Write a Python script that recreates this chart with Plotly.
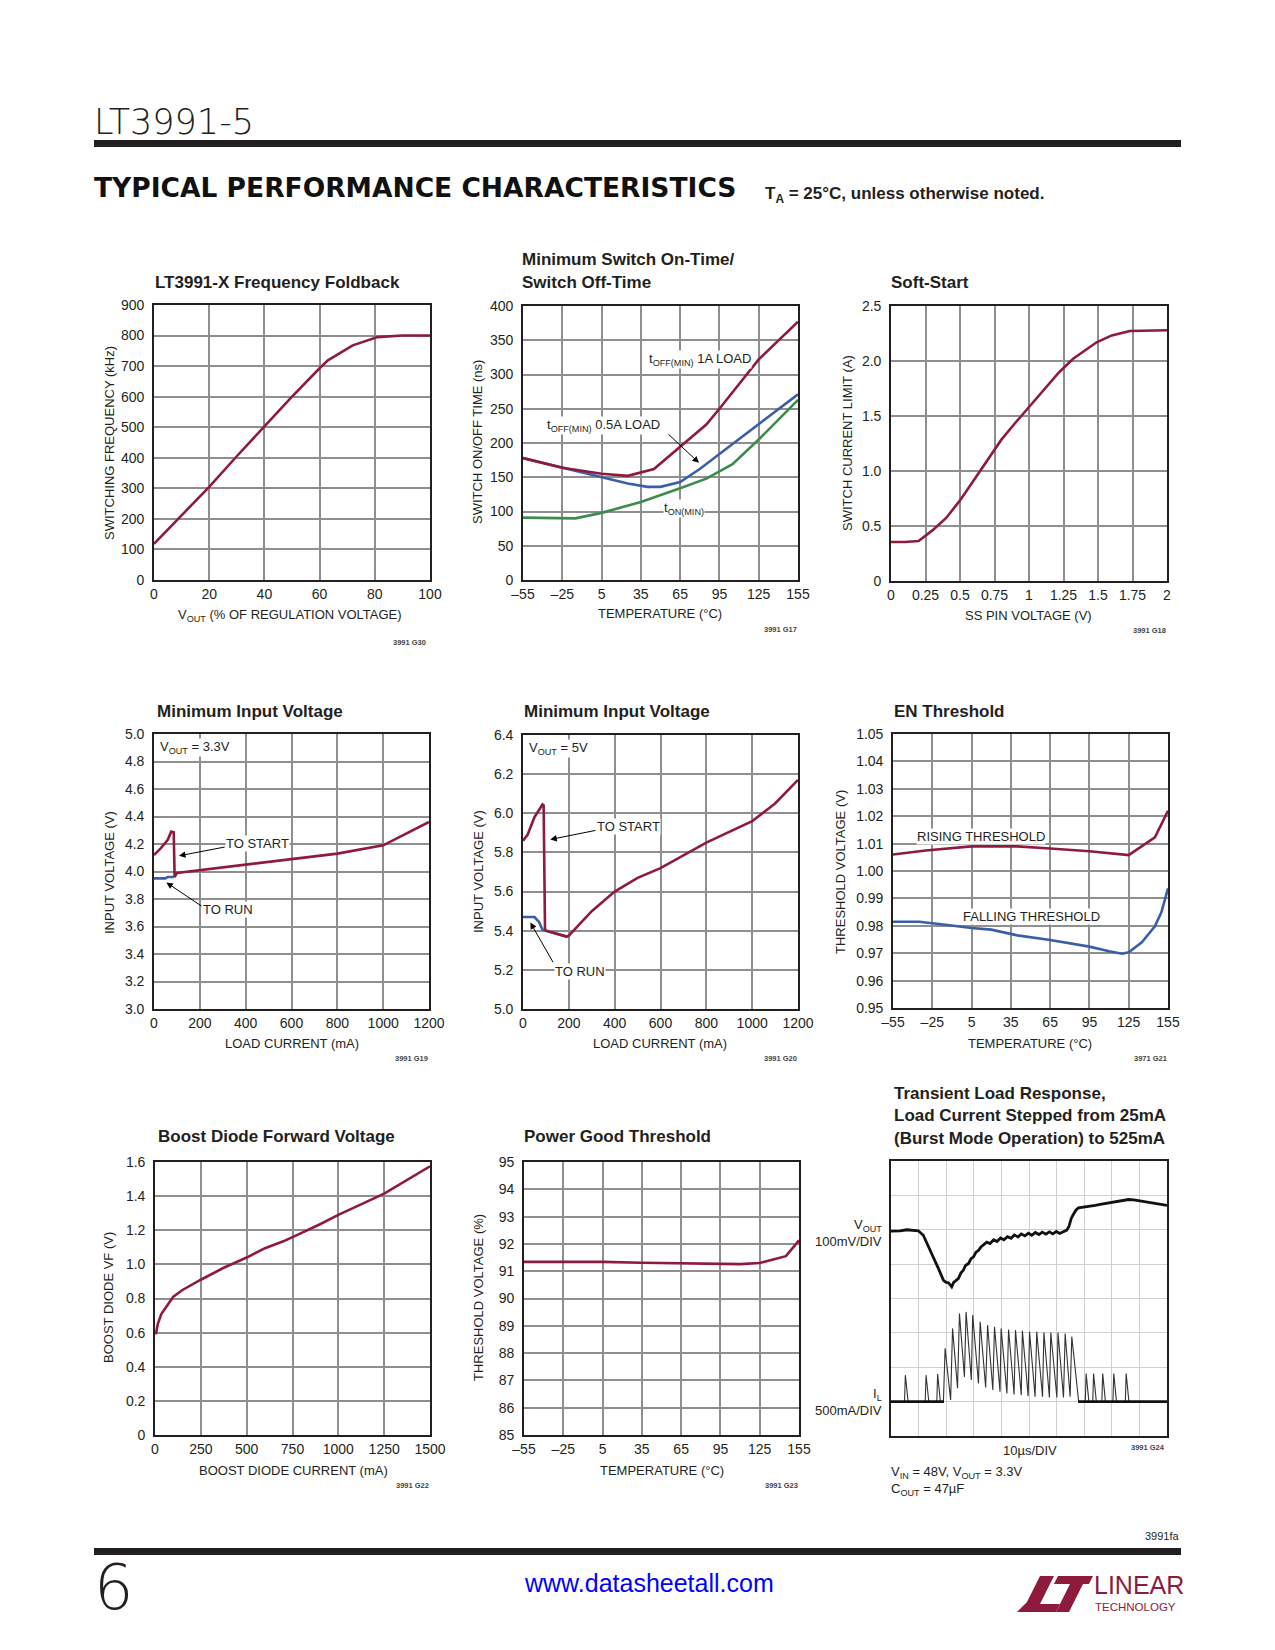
import plotly.graph_objects as go

W, H = 1275, 1650
OFF = 8  # page offset of the plot div (browser body margin)
FONT = "Liberation Sans Narrow, Arial Narrow, Liberation Sans, Arial, sans-serif"
RED = "#8e1b3e"
BLUE = "#3c5ea8"
GREEN = "#3e8b4e"
INK = "#231f20"
GRID = "#8f8f8f"

# ---------------- data ----------------
# 1. Frequency foldback
fold_vout = [0, 10, 20, 30, 40, 50, 60, 63, 72, 81, 90, 100]
fold_freq = [118, 210, 305, 405, 502, 600, 693, 719, 768, 795, 800, 800]

# 2. Minimum switch on-time / off-time
temp_1a = [-55, -25, 5, 25, 45, 65, 85, 95, 125, 155]
toff_1a = [178, 164, 155, 152, 162, 195, 227, 250, 322, 377]
temp_05a = [-55, -25, 5, 25, 40, 50, 65, 80, 95, 125, 155]
toff_05a = [178, 164, 150, 141, 136, 136, 143, 162, 184, 228, 271]
temp_on = [-55, -35, -15, 5, 35, 65, 85, 105, 125, 155]
ton_min = [91, 90, 90, 98, 114, 134, 148, 169, 205, 263]

# 3. Soft-start
ss_volt = [0, 0.1, 0.2, 0.3, 0.4, 0.5, 0.6, 0.7, 0.8, 0.9, 1.0, 1.1, 1.22, 1.32, 1.49, 1.6, 1.73, 2.0]
ss_ilim = [0.355, 0.355, 0.364, 0.46, 0.573, 0.733, 0.915, 1.103, 1.285, 1.436, 1.582, 1.733, 1.9, 2.02, 2.17, 2.233, 2.273, 2.28]

# 4. Minimum input voltage, VOUT = 3.3V
v33_start_i = [0, 30, 60, 75, 86, 88, 90, 100, 200, 400, 600, 800, 1000, 1200]
v33_start_v = [4.12, 4.17, 4.23, 4.29, 4.285, 3.97, 3.96, 3.99, 4.01, 4.05, 4.09, 4.13, 4.19, 4.36]
v33_run_i = [0, 50, 60, 88]
v33_run_v = [3.95, 3.95, 3.96, 3.96]

# 5. Minimum input voltage, VOUT = 5V
v5_start_i = [0, 20, 50, 75, 85, 90, 96, 100, 150, 190, 200, 300, 400, 500, 600, 800, 1000, 1100, 1200]
v5_start_v = [5.86, 5.89, 5.98, 6.03, 6.045, 6.04, 5.41, 5.40, 5.385, 5.37, 5.375, 5.50, 5.60, 5.67, 5.72, 5.85, 5.96, 6.05, 6.17]
v5_run_i = [0, 50, 70, 85, 100, 150, 190, 200]
v5_run_v = [5.47, 5.47, 5.445, 5.405, 5.40, 5.385, 5.37, 5.375]

# 6. EN threshold
en_rise_t = [-55, -30, 5, 40, 65, 95, 125, 145, 155]
en_rise_v = [1.006, 1.0075, 1.009, 1.009, 1.0082, 1.0072, 1.0058, 1.0123, 1.022]
en_fall_t = [-55, -35, -15, 5, 20, 40, 65, 95, 110, 120, 125, 135, 145, 150, 155]
en_fall_v = [0.9815, 0.9815, 0.9804, 0.9792, 0.9786, 0.9765, 0.9748, 0.9724, 0.9707, 0.9698, 0.9703, 0.9740, 0.9798, 0.9850, 0.9937]

# 7. Boost diode forward voltage
bd_current = [5, 15, 35, 55, 100, 150, 250, 375, 500, 600, 700, 800, 900, 1000, 1250, 1500]
bd_vf = [0.59, 0.65, 0.71, 0.74, 0.81, 0.85, 0.91, 0.98, 1.04, 1.095, 1.135, 1.185, 1.235, 1.29, 1.415, 1.575]

# 8. Power good threshold
pg_temp = [-55, 5, 35, 65, 95, 110, 125, 145, 155]
pg_thresh = [91.34, 91.34, 91.31, 91.28, 91.26, 91.26, 91.30, 91.55, 92.13]

# 9. Transient load response (scope divisions)
vout_trace = [(0, 5.96), (0.33, 5.97), (0.57, 6.0), (0.99, 5.97), (1.17, 5.84), (1.48, 5.31), (1.72, 4.87),
              (1.90, 4.53), (2.0, 4.47), (2.08, 4.46), (2.14, 4.40), (2.20, 4.34), (2.27, 4.47), (2.32, 4.50),
              (2.38, 4.56), (2.44, 4.58), (2.53, 4.74), (2.62, 4.82), (2.70, 4.96), (2.81, 5.02), (2.90, 5.16),
              (2.99, 5.21), (3.08, 5.35), (3.17, 5.40), (3.26, 5.50), (3.35, 5.55), (3.47, 5.64), (3.59, 5.60),
              (3.72, 5.71), (3.84, 5.66), (3.97, 5.76), (4.09, 5.71), (4.22, 5.80), (4.35, 5.75), (4.47, 5.85),
              (4.60, 5.79), (4.72, 5.88), (4.85, 5.82), (4.98, 5.90), (5.10, 5.84), (5.23, 5.92), (5.36, 5.86),
              (5.48, 5.93), (5.61, 5.87), (5.74, 5.94), (5.86, 5.88), (5.99, 5.95), (6.11, 5.89), (6.25, 5.95),
              (6.37, 5.99), (6.45, 6.10), (6.53, 6.33), (6.61, 6.45), (6.70, 6.57), (6.79, 6.64), (7.0, 6.66),
              (7.22, 6.68), (7.40, 6.71), (7.58, 6.74), (7.80, 6.77), (8.07, 6.81), (8.35, 6.85), (8.61, 6.88),
              (8.80, 6.87), (9.03, 6.84), (9.52, 6.78), (10, 6.71)]
il_trace = [(0, 1.0), (0.49, 1.0), (0.52, 1.77), (0.62, 1.0), (1.24, 1.0), (1.27, 1.77), (1.37, 1.0),
            (1.66, 1.0), (1.69, 1.80), (1.79, 1.0), (1.90, 1.0), (1.96, 2.55), (2.16, 1.05), (2.23, 3.13),
            (2.41, 1.39), (2.48, 3.56), (2.66, 1.72), (2.72, 3.61), (2.91, 1.63), (2.96, 3.52), (3.17, 1.53),
            (3.23, 3.32), (3.43, 1.41), (3.50, 3.23), (3.69, 1.34), (3.75, 3.18), (3.95, 1.29), (3.99, 3.13),
            (4.20, 1.24), (4.26, 3.10), (4.46, 1.21), (4.51, 3.08), (4.72, 1.19), (4.76, 3.06), (4.97, 1.16),
            (5.02, 3.03), (5.22, 1.14), (5.28, 3.03), (5.49, 1.14), (5.54, 3.01), (5.74, 1.12), (5.79, 3.01),
            (6.01, 1.12), (6.05, 3.01), (6.25, 1.12), (6.31, 2.98), (6.49, 1.14), (6.55, 2.89), (6.80, 1.0),
            (7.04, 1.0), (7.07, 1.82), (7.17, 1.0), (7.31, 1.0), (7.34, 1.82), (7.44, 1.0), (7.64, 1.0),
            (7.67, 1.82), (7.77, 1.0), (8.04, 1.0), (8.07, 1.82), (8.17, 1.0), (8.49, 1.0), (8.52, 1.82),
            (8.62, 1.0), (10, 1.0)]
il_base_left = [(0, 1.0), (1.92, 1.0)]
il_base_right = [(6.78, 1.0), (10, 1.0)]

# ticks
temp_ticks = [-55, -25, 5, 35, 65, 95, 125, 155]
temp_labels = ["–55", "–25", "5", "35", "65", "95", "125", "155"]

# ---------------- layout helpers ----------------
boxes = {
    1: (154, 430, 305, 580), 2: (523, 798, 306, 580), 3: (891, 1167, 306, 581),
    4: (154, 429, 734, 1009), 5: (523, 798, 735, 1009), 6: (893, 1168, 734, 1008),
    7: (155, 430, 1162, 1435), 8: (524, 799, 1162, 1435), 9: (891, 1167, 1161, 1436),
}

axes_spec = {
    1: ([0, 100], [0, 20, 40, 60, 80, 100], None, [0, 900], list(range(0, 901, 100)), None),
    2: ([-55, 155], temp_ticks, temp_labels, [0, 400], list(range(0, 401, 50)), None),
    3: ([0, 2], [0, 0.25, 0.5, 0.75, 1, 1.25, 1.5, 1.75, 2], ["0", "0.25", "0.5", "0.75", "1", "1.25", "1.5", "1.75", "2"],
        [0, 2.5], [0, 0.5, 1, 1.5, 2, 2.5], ["0", "0.5", "1.0", "1.5", "2.0", "2.5"]),
    4: ([0, 1200], list(range(0, 1201, 200)), None, [3.0, 5.0], [3.0 + 0.2 * i for i in range(11)],
        ["3.0", "3.2", "3.4", "3.6", "3.8", "4.0", "4.2", "4.4", "4.6", "4.8", "5.0"]),
    5: ([0, 1200], list(range(0, 1201, 200)), None, [5.0, 6.4], [5.0 + 0.2 * i for i in range(8)],
        ["5.0", "5.2", "5.4", "5.6", "5.8", "6.0", "6.2", "6.4"]),
    6: ([-55, 155], temp_ticks, temp_labels, [0.95, 1.05], [0.95 + 0.01 * i for i in range(11)],
        ["0.95", "0.96", "0.97", "0.98", "0.99", "1.00", "1.01", "1.02", "1.03", "1.04", "1.05"]),
    7: ([0, 1500], list(range(0, 1501, 250)), None, [0, 1.6], [0.2 * i for i in range(9)],
        ["0", "0.2", "0.4", "0.6", "0.8", "1.0", "1.2", "1.4", "1.6"]),
    8: ([-55, 155], temp_ticks, temp_labels, [85, 95], list(range(85, 96)), None),
}

TICK = 14


def fx(px):
    return (px - OFF) / W


def fy(py):
    return 1 - (py - OFF) / H


def xid(n):
    return "x" if n == 1 else f"x{n}"


def yid(n):
    return "y" if n == 1 else f"y{n}"


fig = go.Figure()
layout_axes = {}
for n, (l, r, t, b) in boxes.items():
    xname = "xaxis" if n == 1 else f"xaxis{n}"
    yname = "yaxis" if n == 1 else f"yaxis{n}"
    common = dict(showline=True, linecolor=INK, linewidth=1.6, mirror=True, zeroline=False,
                  ticks="", fixedrange=True, automargin=False,
                  tickfont=dict(family=FONT, size=TICK, color=INK))
    if n == 9:
        layout_axes[xname] = dict(domain=[fx(l), fx(r)], range=[0, 10], dtick=1, anchor=yid(n),
                                  showticklabels=False, showgrid=True, gridcolor="#cfcfcf", gridwidth=1, **common)
        layout_axes[yname] = dict(domain=[fy(b), fy(t)], range=[0, 8], dtick=1, anchor=xid(n),
                                  showticklabels=False, showgrid=True, gridcolor="#cfcfcf", gridwidth=1, **common)
        continue
    xr, xt, xl, yr, yt, yl = axes_spec[n]
    layout_axes[xname] = dict(domain=[fx(l), fx(r)], range=xr, tickmode="array", tickvals=xt,
                              ticktext=xl if xl else [str(v) for v in xt], anchor=yid(n),
                              showgrid=True, gridcolor=GRID, gridwidth=1.6, **common)
    layout_axes[yname] = dict(domain=[fy(b), fy(t)], range=yr, tickmode="array", tickvals=yt,
                              ticktext=yl if yl else [str(v) for v in yt], anchor=xid(n),
                              ticklabelstandoff=5,
                              showgrid=True, gridcolor=GRID, gridwidth=1.6, **common)


def line(n, x, y, color, width=2.6):
    fig.add_trace(go.Scatter(x=x, y=y, mode="lines", xaxis=xid(n), yaxis=yid(n), showlegend=False,
                             hoverinfo="skip", line=dict(color=color, width=width)))


line(1, fold_vout, fold_freq, RED)
line(2, temp_on, ton_min, GREEN)
line(2, temp_05a, toff_05a, BLUE)
line(2, temp_1a, toff_1a, RED)
line(3, ss_volt, ss_ilim, RED)
line(4, v33_run_i, v33_run_v, BLUE)
line(4, v33_start_i, v33_start_v, RED)
line(5, v5_run_i, v5_run_v, BLUE)
line(5, v5_start_i, v5_start_v, RED)
line(6, en_rise_t, en_rise_v, RED)
line(6, en_fall_t, en_fall_v, BLUE)
line(7, bd_current, bd_vf, RED)
line(8, pg_temp, pg_thresh, RED)
line(9, [p[0] for p in il_trace], [p[1] for p in il_trace], "#333333", 1.1)
line(9, [p[0] for p in il_base_left], [p[1] for p in il_base_left], "#111111", 2.6)
line(9, [p[0] for p in il_base_right], [p[1] for p in il_base_right], "#111111", 2.6)
line(9, [p[0] for p in vout_trace], [p[1] for p in vout_trace], "#111111", 2.8)

annotations = []


def txt(text, x, y, size=13, xanchor="center", yanchor="middle", family=FONT, color=INK,
        angle=0, bg=None, xref="paper", yref="paper", weight=None):
    if xref == "paper":
        x = fx(x)
    if yref == "paper":
        y = fy(y)
    font = dict(family=family, size=size, color=color)
    if weight is not None:
        font["weight"] = weight
    d = dict(text=text, x=x, y=y, xref=xref, yref=yref, xanchor=xanchor, yanchor=yanchor,
             showarrow=False, font=font, textangle=angle, borderpad=0)
    if bg:
        d["bgcolor"] = bg
    annotations.append(d)


def arrow(n, x, y, ax, ay):
    annotations.append(dict(x=x, y=y, ax=ax, ay=ay, xref=xid(n), yref=yid(n), axref=xid(n), ayref=yid(n),
                            text="", showarrow=True, arrowhead=2, arrowsize=1.3, arrowwidth=1,
                            arrowcolor="black", standoff=0))


def label(n, text, x, y, xanchor="center"):
    txt(text, x, y, size=13, xref=xid(n), yref=yid(n), xanchor=xanchor, bg="white")


# page header
txt("LT3991-5", 93, 122, size=35, xanchor="left", family="DejaVu Sans", weight=200, color="#231f20")
txt("TYPICAL PERFORMANCE CHARACTERISTICS", 93, 187, size=26.5, xanchor="left",
    family="DejaVu Sans", weight="bold", color="#111111")
txt("<b>T<sub>A</sub> = 25°C, unless otherwise noted.</b>", 764, 195, size=17, xanchor="left")

# chart titles
titles = [
    ("LT3991-X Frequency Foldback", 154, 283), ("Minimum Switch On-Time/", 521, 260),
    ("Switch Off-Time", 521, 283), ("Soft-Start", 890, 283),
    ("Minimum Input Voltage", 156, 711), ("Minimum Input Voltage", 523, 711), ("EN Threshold", 893, 711),
    ("Boost Diode Forward Voltage", 157, 1136), ("Power Good Threshold", 523, 1136),
    ("Transient Load Response,", 893, 1093), ("Load Current Stepped from 25mA", 893, 1115),
    ("(Burst Mode Operation) to 525mA", 893, 1138),
]
for t, x, y in titles:
    txt(f"<b>{t}</b>", x, y, size=17, xanchor="left", color="#231f20")

# axis titles
ytitles = [
    ("SWITCHING FREQUENCY (kHz)", 109, 443), ("SWITCH ON/OFF TIME (ns)", 478, 442),
    ("SWITCH CURRENT LIMIT (A)", 847, 443), ("INPUT VOLTAGE (V)", 109, 872),
    ("INPUT VOLTAGE (V)", 478, 872), ("THRESHOLD VOLTAGE (V)", 840, 872),
    ("BOOST DIODE VF (V)", 108, 1298), ("THRESHOLD VOLTAGE (%)", 478, 1298),
]
for t, x, y in ytitles:
    txt(t, x, y, size=13, angle=-90)
xtitles = [
    ("V<sub>OUT</sub> (% OF REGULATION VOLTAGE)", 290, 616), ("TEMPERATURE (°C)", 660, 614),
    ("SS PIN VOLTAGE (V)", 1028, 615), ("LOAD CURRENT (mA)", 292, 1043),
    ("LOAD CURRENT (mA)", 660, 1043), ("TEMPERATURE (°C)", 1030, 1043),
    ("BOOST DIODE CURRENT (mA)", 293, 1470), ("TEMPERATURE (°C)", 662, 1470),
]
for t, x, y in xtitles:
    txt(t, x, y, size=13)

# figure codes
codes = [("3991 G30", 427, 642), ("3991 G17", 798, 629), ("3991 G18", 1167, 630),
         ("3991 G19", 429, 1058), ("3991 G20", 798, 1058), ("3971 G21", 1168, 1058),
         ("3991 G22", 430, 1485), ("3991 G23", 799, 1485), ("3991 G24", 1166, 1447)]
for t, x, y in codes:
    txt(f"<b>{t}</b>", x, y, size=7.5, xanchor="right", color="#444444")

# in-chart labels
label(2, "t<sub>OFF(MIN)</sub> 1A LOAD", 80, 322)
label(2, "t<sub>OFF(MIN)</sub> 0.5A LOAD", 6.6, 226)
label(2, "t<sub>ON(MIN)</sub>", 68, 104)
arrow(2, 79.4, 171, 54.9, 214.8)

label(4, "V<sub>OUT</sub> = 3.3V", 20, 4.9, xanchor="left")
label(4, "TO START", 450, 4.2)
label(4, "TO RUN", 323, 3.72)
arrow(4, 109, 4.114, 315, 4.18)
arrow(4, 54, 3.92, 214, 3.741)

label(5, "V<sub>OUT</sub> = 5V", 20, 6.33, xanchor="left")
label(5, "TO START", 459, 5.93)
label(5, "TO RUN", 248, 5.19)
arrow(5, 119, 5.866, 323, 5.914)
arrow(5, 32, 5.442, 135, 5.231)

label(6, "RISING THRESHOLD", 12, 1.0126)
label(6, "FALLING THRESHOLD", 51, 0.9833)

# transient side labels
txt("V<sub>OUT</sub>", 883, 1225, xanchor="right")
txt("100mV/DIV", 883, 1241, xanchor="right")
txt("I<sub>L</sub>", 883, 1394, xanchor="right")
txt("500mA/DIV", 883, 1410, xanchor="right")
txt("10µs/DIV", 1030, 1450)
txt("V<sub>IN</sub> = 48V, V<sub>OUT</sub> = 3.3V", 890, 1472, xanchor="left")
txt("C<sub>OUT</sub> = 47µF", 890, 1489, xanchor="left")

# footer
txt("3991fa", 1181, 1536, size=11, xanchor="right")
txt("6", 93, 1587, size=62, xanchor="left", family="DejaVu Sans", weight=200, color="#231f20")
txt("www.datasheetall.com", 649, 1583, size=25, family="Liberation Sans, Arial, sans-serif", color="#0000ff")
txt("LINEAR", 1093, 1585, size=25, xanchor="left", color="#8e1b3e")
txt("TECHNOLOGY", 1094, 1607, size=11.5, xanchor="left", color="#8e1b3e")


def pth(points):
    return "M " + " L ".join(f"{fx(x):.5f},{fy(y):.5f}" for x, y in points) + " Z"


shapes = [
    dict(type="rect", xref="paper", yref="paper", x0=fx(94), x1=fx(1181), y0=fy(147), y1=fy(140),
         fillcolor="#231f20", line=dict(width=0)),
    dict(type="rect", xref="paper", yref="paper", x0=fx(94), x1=fx(1181), y0=fy(1555), y1=fy(1548),
         fillcolor="#231f20", line=dict(width=0)),
    dict(type="path", xref="paper", yref="paper",
         path=pth([(1040, 1576), (1054, 1576), (1040, 1604), (1060, 1604), (1056, 1612), (1017, 1612), (1027, 1602)]),
         fillcolor="#8e1b3e", line=dict(width=0)),
    dict(type="path", xref="paper", yref="paper",
         path=pth([(1058, 1576), (1093, 1576), (1089, 1584), (1083, 1584), (1069, 1612), (1056, 1612),
                   (1070, 1584), (1054, 1584)]),
         fillcolor="#8e1b3e", line=dict(width=0)),
]

fig.update_layout(
    template="none",
    width=W, height=H, margin=dict(l=0, r=0, t=0, b=0, pad=0, autoexpand=False),
    paper_bgcolor="white", plot_bgcolor="white",
    showlegend=False, annotations=annotations, shapes=shapes,
    font=dict(family=FONT, color=INK),
    **layout_axes,
)

fig.write_html("out.html")
